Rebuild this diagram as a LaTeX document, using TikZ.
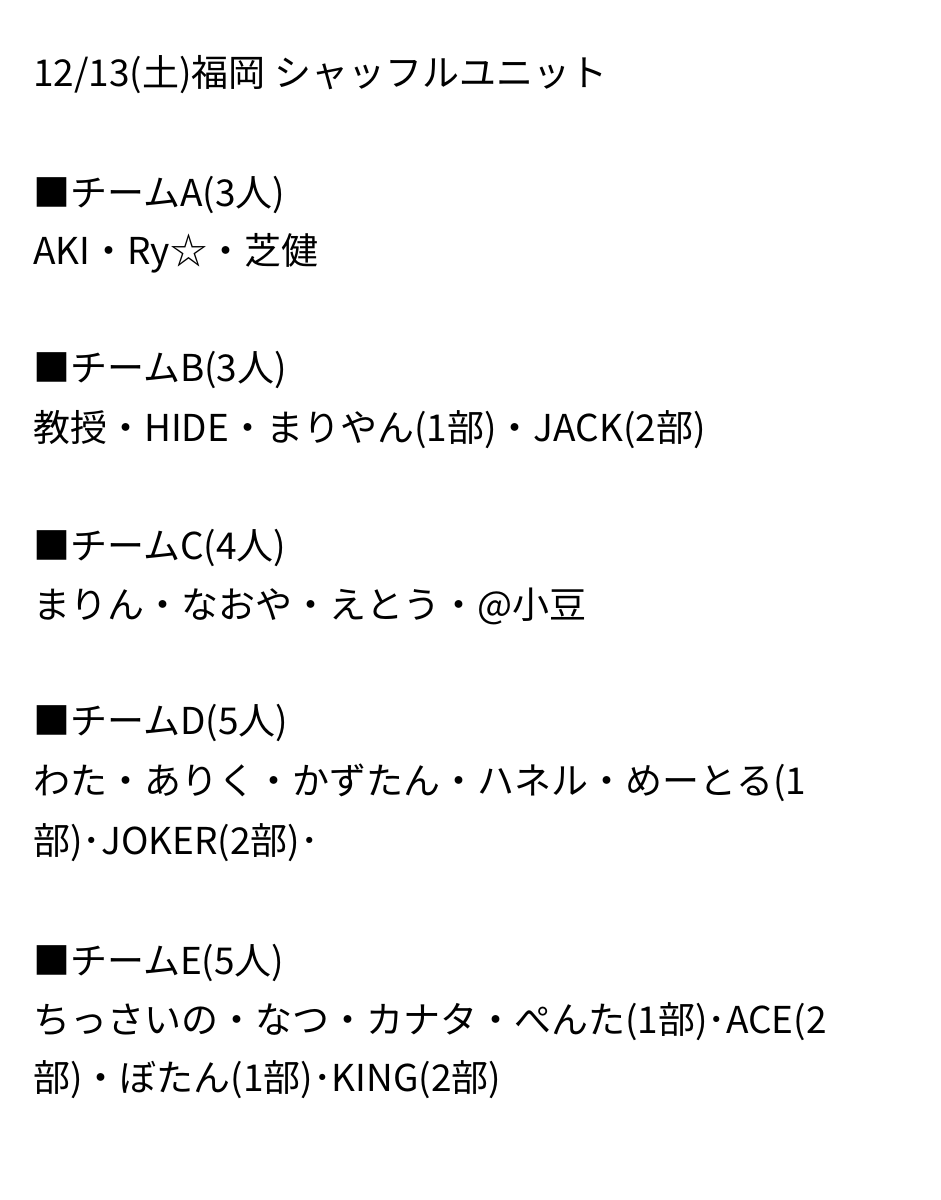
\documentclass[tikz,border=0pt]{standalone}
\usepackage{fontspec}
\setmainfont{Noto Sans CJK JP}
\begin{document}
\begin{tikzpicture}[x=1pt,y=-1pt]
\tikzset{line/.style={anchor=west,inner sep=0,font=\fontsize{37}{42}\selectfont}}
\fill[white] (0,0) rectangle (941,1200);
\node[line] (title) at (33,75) {12/13(土)福岡 シャッフルユニット};
\node[line] (ha) at (33,195) {■チームA(3人)};
\node[line] (ma) at (33,253) {AKI・Ry☆・芝健};
\node[line] (hb) at (33,370) {■チームB(3人)};
\node[line] (mb) at (33,430) {教授・HIDE・まりやん(1部)・JACK(2部)};
\node[line] (hc) at (33,548) {■チームC(4人)};
\node[line] (mc) at (33,606) {まりん・なおや・えとう・@小豆};
\node[line] (hd) at (33,723) {■チームD(5人)};
\node[line] (md) at (33,783) {わた・ありく・かずたん・ハネル・めーとる(1};
\node[line] (me) at (33,843) {部)･JOKER(2部)･};
\node[line] (he) at (33,963) {■チームE(5人)};
\node[line] (mf) at (33,1022) {ちっさいの・なつ・カナタ・ぺんた(1部)･ACE(2};
\node[line] (mg) at (33,1080) {部)・ぼたん(1部)･KING(2部)};
\end{tikzpicture}
\end{document}
